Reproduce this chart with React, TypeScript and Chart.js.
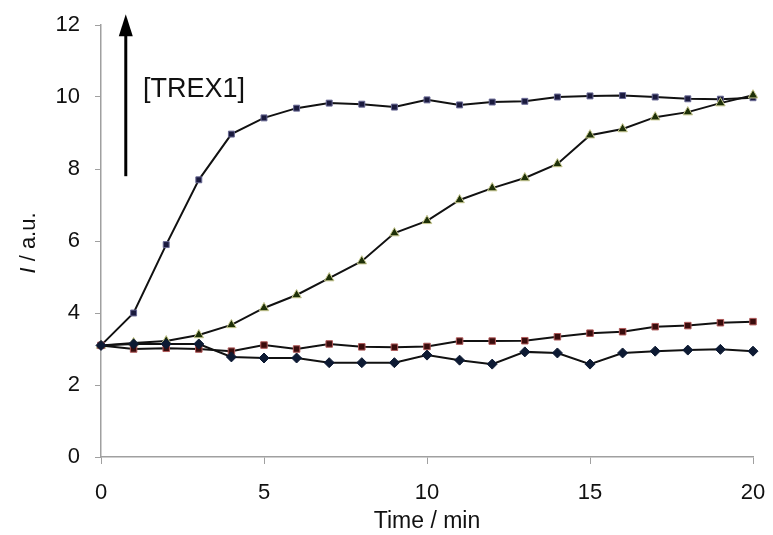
import { useEffect, useRef } from "react";
import { Chart, registerables } from "chart.js";

Chart.register(...registerables);

const times = [0, 1, 2, 3, 4, 5, 6, 7, 8, 9, 10, 11, 12, 13, 14, 15, 16, 17, 18, 19, 20];
const seriesFast = [3.1, 4.0, 5.9, 7.7, 8.97, 9.42, 9.69, 9.83, 9.8, 9.72, 9.92, 9.78, 9.86, 9.88, 10.0, 10.03, 10.04, 10.0, 9.95, 9.94, 9.98];
const seriesSlow = [3.1, 3.17, 3.22, 3.39, 3.67, 4.14, 4.5, 4.97, 5.44, 6.22, 6.56, 7.14, 7.47, 7.75, 8.14, 8.94, 9.11, 9.44, 9.58, 9.83, 10.05];
const seriesLow = [3.1, 3.0, 3.02, 3.0, 2.94, 3.11, 3.0, 3.14, 3.06, 3.05, 3.07, 3.22, 3.22, 3.23, 3.34, 3.44, 3.48, 3.62, 3.65, 3.73, 3.76];
const seriesControl = [3.1, 3.14, 3.14, 3.14, 2.78, 2.75, 2.75, 2.62, 2.62, 2.62, 2.83, 2.69, 2.58, 2.92, 2.89, 2.58, 2.89, 2.94, 2.97, 2.99, 2.94];
const xTickValues = [0, 5, 10, 15, 20];
const yTickValues = [0, 2, 4, 6, 8, 10, 12];

const FONT = "'Liberation Sans', Arial, sans-serif";

const toPoints = (vals: number[]) => times.map((t, i) => ({ x: t, y: vals[i] }));

const annotationPlugin = {
  id: "annotations",
  afterDatasetsDraw(chart: any) {
    const { ctx, scales } = chart;
    const xs = scales.x;
    const ys = scales.y;
    ctx.save();
    // arrow
    const ax = xs.getPixelForValue(0.76);
    const yb = ys.getPixelForValue(7.8);
    const yt = ys.getPixelForValue(12.3);
    ctx.strokeStyle = "#000";
    ctx.fillStyle = "#000";
    ctx.lineWidth = 3;
    ctx.beginPath();
    ctx.moveTo(ax, yb);
    ctx.lineTo(ax, yt + 18);
    ctx.stroke();
    ctx.beginPath();
    ctx.moveTo(ax, yt);
    ctx.lineTo(ax - 7, yt + 22);
    ctx.lineTo(ax + 7, yt + 22);
    ctx.closePath();
    ctx.fill();
    // label
    ctx.font = `27px ${FONT}`;
    ctx.fillStyle = "#111";
    ctx.textBaseline = "middle";
    ctx.textAlign = "left";
    ctx.fillText("[TREX1]", xs.getPixelForValue(1.29), ys.getPixelForValue(10.2));
    // y axis title with italic I
    const cx = 29;
    const cy = (ys.top + ys.bottom) / 2 + 2;
    ctx.translate(cx, cy);
    ctx.rotate(-Math.PI / 2);
    ctx.font = `italic 22px ${FONT}`;
    const w1 = ctx.measureText("I").width;
    ctx.font = `22px ${FONT}`;
    const w2 = ctx.measureText(" / a.u.").width;
    const start = -(w1 + w2) / 2;
    ctx.font = `italic 22px ${FONT}`;
    ctx.fillText("I", start, 0);
    ctx.font = `22px ${FONT}`;
    ctx.fillText(" / a.u.", start + w1, 0);
    ctx.restore();
  },
};

export default function App() {
  const ref = useRef<HTMLCanvasElement | null>(null);
  useEffect(() => {
    document.body.style.margin = "0";
    const canvas = ref.current;
    if (!canvas) return;
    const line = { borderColor: "#111", borderWidth: 2, tension: 0, clip: false as any };
    const chart = new Chart(canvas, {
      type: "line",
      data: {
        datasets: [
          {
            ...line,
            label: "control",
            data: toPoints(seriesControl),
            pointStyle: "rectRot",
            pointRadius: 5,
            pointBackgroundColor: "#0d1a33",
            pointBorderColor: "#0d1a33",
            pointBorderWidth: 1,
          },
          {
            ...line,
            label: "low",
            data: toPoints(seriesLow),
            pointStyle: "rect",
            pointRadius: 4.6,
            pointBackgroundColor: "#3a0c0c",
            pointBorderColor: "#b05a5a",
            pointBorderWidth: 1,
          },
          {
            ...line,
            label: "mid",
            data: toPoints(seriesSlow),
            pointStyle: "triangle",
            pointRadius: 5.5,
            pointBackgroundColor: "#1e3008",
            pointBorderColor: "#c8c890",
            pointBorderWidth: 1,
          },
          {
            ...line,
            label: "high",
            data: toPoints(seriesFast),
            pointStyle: "rect",
            pointRadius: 4.2,
            pointBackgroundColor: "#1a1a3e",
            pointBorderColor: "#6a6a95",
            pointBorderWidth: 1,
          },
        ],
      },
      options: {
        responsive: false,
        animation: false,
        devicePixelRatio: 1,
        layout: { padding: { left: 0, right: 20, top: 25, bottom: 0 } },
        plugins: { legend: { display: false }, tooltip: { enabled: false } },
        scales: {
          x: {
            type: "linear",
            min: 0,
            max: 20,
            afterBuildTicks: (s: any) => {
              s.ticks = xTickValues.map((v) => ({ value: v }));
            },
            afterFit: (s: any) => {
              s.height = 78;
              s.paddingLeft = 0;
              s.paddingRight = 0;
            },
            grid: { drawOnChartArea: false, drawTicks: true, tickLength: 7, color: "#a0a0a0", lineWidth: 1 },
            border: { color: "#a0a0a0", width: 1.5 },
            ticks: { color: "#111", font: { family: FONT, size: 22 }, padding: 16, maxRotation: 0 },
            title: { display: true, text: "Time / min", color: "#111", font: { family: FONT, size: 23 }, padding: { top: 0, bottom: 0 } },
          },
          y: {
            type: "linear",
            min: 0,
            max: 12,
            afterBuildTicks: (s: any) => {
              s.ticks = yTickValues.map((v) => ({ value: v }));
            },
            afterFit: (s: any) => {
              s.width = 101;
              s.paddingTop = 0;
              s.paddingBottom = 0;
            },
            grid: { drawOnChartArea: false, drawTicks: true, tickLength: 6, color: "#a0a0a0", lineWidth: 1 },
            border: { color: "#a0a0a0", width: 1.5 },
            ticks: { color: "#111", font: { family: FONT, size: 22 }, padding: 15 },
          },
        },
      },
      plugins: [annotationPlugin],
    });
    return () => chart.destroy();
  }, []);
  return (
    <div style={{ position: "absolute", left: 0, top: 0, width: 773, height: 535, background: "#fff" }}>
      <canvas ref={ref} width={773} height={535} />
    </div>
  );
}
